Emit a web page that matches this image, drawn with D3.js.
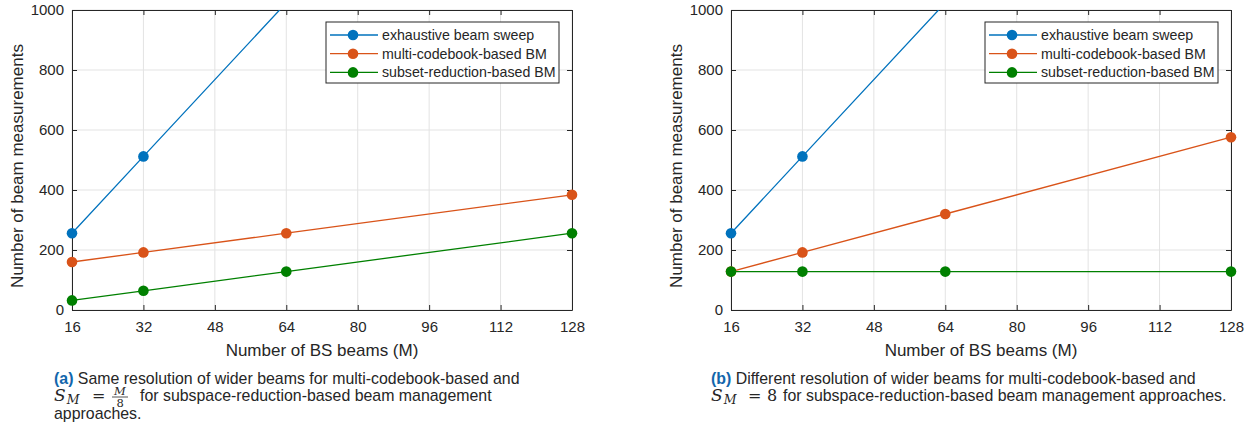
<!DOCTYPE html>
<html>
<head>
<meta charset="utf-8">
<script src="https://cdn.jsdelivr.net/npm/d3@7"></script>
<style>
  body { margin: 0; background: #fff; }
  svg text { font-family: "Liberation Sans", Arial, Helvetica, sans-serif; fill: #262626; }
  .math { font-family: "DejaVu Serif", "Liberation Serif", serif; font-style: italic; }
</style>
</head>
<body>
<svg id="chart" width="1250" height="427"></svg>
<script>
// ----- data -----
const beams = [16, 32, 64, 128];
const xTicks = [16, 32, 48, 64, 80, 96, 112, 128];
const yTicks = [0, 200, 400, 600, 800, 1000];
const seriesNames = ["exhaustive beam sweep", "multi-codebook-based BM", "subset-reduction-based BM"];
const seriesColors = ["#0072BD", "#D95319", "#008000"];

const exhaustive = [256, 512, 1024, 2048];
const multiA = [160, 192, 256, 384];
const subsetA = [32, 64, 128, 256];
const multiB = [128, 192, 320, 576];
const subsetB = [128, 128, 128, 128];

const svg = d3.select("#chart");

function drawPanel(x0, series, id) {
  const w = 500, h = 300, top = 10;
  const g = svg.append("g").attr("transform", `translate(${x0},${top})`);

  const x = d3.scaleLinear().domain([16, 128]).range([0, w]);
  const y = d3.scaleLinear().domain([0, 1000]).range([h, 0]);

  // grid
  g.selectAll(".gx").data(xTicks).join("line")
    .attr("x1", d => x(d)).attr("x2", d => x(d))
    .attr("y1", 0).attr("y2", h)
    .attr("stroke", "#e3e3e3").attr("stroke-width", 1);
  g.selectAll(".gy").data(yTicks).join("line")
    .attr("y1", d => y(d)).attr("y2", d => y(d))
    .attr("x1", 0).attr("x2", w)
    .attr("stroke", "#e3e3e3").attr("stroke-width", 1);

  // axes (ticks inward, box on)
  const ax = g.append("g").attr("transform", `translate(0,${h})`)
    .call(d3.axisBottom(x).tickValues(xTicks).tickSizeInner(-5).tickSizeOuter(0).tickPadding(11).tickFormat(d3.format("d")));
  const ay = g.append("g")
    .call(d3.axisLeft(y).tickValues(yTicks).tickSizeInner(-5).tickSizeOuter(0).tickPadding(8).tickFormat(d3.format("d")));
  const axt = g.append("g")
    .call(d3.axisTop(x).tickValues(xTicks).tickSizeInner(-5).tickSizeOuter(0).tickFormat(""));
  const ayr = g.append("g").attr("transform", `translate(${w},0)`)
    .call(d3.axisRight(y).tickValues(yTicks).tickSizeInner(-5).tickSizeOuter(0).tickFormat(""));
  [ax, ay, axt, ayr].forEach(a => {
    a.select(".domain").attr("stroke", "#262626").attr("stroke-width", 1);
    a.selectAll(".tick line").attr("stroke", "#262626");
    a.selectAll("text").style("font-size", "15px").attr("fill", "#262626");
  });

  // clip
  svg.append("clipPath").attr("id", "clip" + id)
    .append("rect").attr("x", -8).attr("y", 0).attr("width", w + 16).attr("height", h + 8);

  const line = d3.line().x((d, i) => x(beams[i])).y(d => y(d));
  const plot = g.append("g").attr("clip-path", `url(#clip${id})`);
  series.forEach((s, k) => {
    plot.append("path").datum(s)
      .attr("d", line).attr("fill", "none")
      .attr("stroke", seriesColors[k]).attr("stroke-width", 1.3);
    plot.selectAll(".m" + k).data(s.map((v, i) => [beams[i], v]).filter(d => d[1] <= 1000)).join("circle")
      .attr("cx", d => x(d[0])).attr("cy", d => y(d[1])).attr("r", 5.3)
      .attr("fill", seriesColors[k]);
  });

  // axis labels
  g.append("text").attr("x", w / 2).attr("y", h + 46)
    .attr("text-anchor", "middle").style("font-size", "17px")
    .text("Number of BS beams (M)");
  g.append("text")
    .attr("transform", `translate(${-49},${h / 2 + 6}) rotate(-90)`)
    .attr("text-anchor", "middle").style("font-size", "17px")
    .text("Number of beam measurements");

  // legend
  const lg = g.append("g").attr("transform", `translate(254,12)`);
  lg.append("rect").attr("width", 233).attr("height", 61)
    .attr("fill", "#fff").attr("stroke", "#262626").attr("stroke-width", 1);
  seriesNames.forEach((n, k) => {
    const ry = 13 + k * 18.7;
    lg.append("line").attr("x1", 4).attr("x2", 52).attr("y1", ry).attr("y2", ry)
      .attr("stroke", seriesColors[k]).attr("stroke-width", 1.3);
    lg.append("circle").attr("cx", 27).attr("cy", ry).attr("r", 5.3).attr("fill", seriesColors[k]);
    lg.append("text").attr("x", 56).attr("y", ry + 5).style("font-size", "14.2px").text(n);
  });
}

drawPanel(72, [exhaustive, multiA, subsetA], "a");
drawPanel(731, [exhaustive, multiB, subsetB], "b");

// ----- captions -----
const capSize = "15.9px";
function capLine(xp, yp) {
  return svg.append("text").attr("x", xp).attr("y", yp).style("font-size", capSize);
}
function symS(xp, yp) {
  const tx = svg.append("text").attr("x", xp).attr("y", yp).attr("class", "math").style("font-size", "17px");
  tx.append("tspan").text("S");
  tx.append("tspan").attr("dx", 1).attr("dy", 3).style("font-size", "12.5px").text("M");
  return tx;
}
function serif(t, xp, yp, size) {
  return svg.append("text").attr("x", xp).attr("y", yp)
    .style("font-family", "'DejaVu Serif', serif").style("font-size", size).text(t);
}

// (a)
let c = capLine(54, 384);
c.append("tspan").style("font-weight", "bold").style("fill", "#1266ac").text("(a)");
c.append("tspan").text(" Same resolution of wider beams for multi-codebook-based and");
symS(54, 401);
serif("=", 92, 401, "16px");
svg.append("text").attr("x", 120).attr("y", 395).attr("class", "math")
  .attr("text-anchor", "middle").style("font-size", "11.5px").text("M");
svg.append("line").attr("x1", 112).attr("x2", 128).attr("y1", 397).attr("y2", 397)
  .attr("stroke", "#262626").attr("stroke-width", 0.8);
serif("8", 116.5, 407, "11.5px");
capLine(140, 401).text("for subspace-reduction-based beam management");
capLine(54, 419).text("approaches.");

// (b)
c = capLine(711, 384);
c.append("tspan").style("font-weight", "bold").style("fill", "#1266ac").text("(b)");
c.append("tspan").text(" Different resolution of wider beams for multi-codebook-based and");
symS(711, 401);
serif("=", 748, 401, "16px");
serif("8", 767, 401, "16px");
capLine(783, 401).text("for subspace-reduction-based beam management approaches.");
</script>
</body>
</html>
